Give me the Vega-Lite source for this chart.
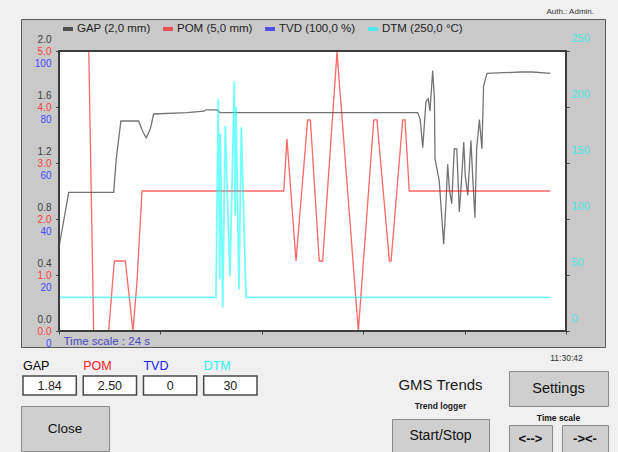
{
  "$schema": "https://vega.github.io/schema/vega-lite/v6.json",
  "background": "#f0f0f0",
  "padding": {"left": 20, "top": 7, "right": 14, "bottom": 0},
  "config": {
    "font": "Liberation Sans",
    "view": {"stroke": null},
    "axis": {"labelFont": "Liberation Sans", "titleFont": "Liberation Sans"},
    "legend": {"labelFont": "Liberation Sans"},
    "title": {"font": "Liberation Sans"},
    "text": {"font": "Liberation Sans"}
  },
  "datasets": {
    "trend": [
      {"series": "GAP", "t": 0.00, "v": 0.60}, {"series": "GAP", "t": 0.46, "v": 0.99}, {"series": "GAP", "t": 2.59, "v": 0.99},
      {"series": "GAP", "t": 2.71, "v": 1.23}, {"series": "GAP", "t": 2.93, "v": 1.50}, {"series": "GAP", "t": 3.77, "v": 1.50},
      {"series": "GAP", "t": 3.98, "v": 1.42}, {"series": "GAP", "t": 4.13, "v": 1.38}, {"series": "GAP", "t": 4.32, "v": 1.44},
      {"series": "GAP", "t": 4.48, "v": 1.55}, {"series": "GAP", "t": 6.06, "v": 1.56}, {"series": "GAP", "t": 6.86, "v": 1.57},
      {"series": "GAP", "t": 6.96, "v": 1.58}, {"series": "GAP", "t": 7.48, "v": 1.58}, {"series": "GAP", "t": 7.62, "v": 1.56},
      {"series": "GAP", "t": 16.98, "v": 1.56}, {"series": "GAP", "t": 17.10, "v": 1.51}, {"series": "GAP", "t": 17.22, "v": 1.31},
      {"series": "GAP", "t": 17.37, "v": 1.64}, {"series": "GAP", "t": 17.48, "v": 1.66}, {"series": "GAP", "t": 17.56, "v": 1.57},
      {"series": "GAP", "t": 17.69, "v": 1.86}, {"series": "GAP", "t": 17.77, "v": 1.66}, {"series": "GAP", "t": 17.80, "v": 1.23},
      {"series": "GAP", "t": 18.00, "v": 1.07}, {"series": "GAP", "t": 18.21, "v": 0.62}, {"series": "GAP", "t": 18.32, "v": 0.92},
      {"series": "GAP", "t": 18.40, "v": 1.19}, {"series": "GAP", "t": 18.48, "v": 1.01}, {"series": "GAP", "t": 18.59, "v": 0.91},
      {"series": "GAP", "t": 18.71, "v": 1.30}, {"series": "GAP", "t": 18.83, "v": 1.30}, {"series": "GAP", "t": 18.95, "v": 0.85},
      {"series": "GAP", "t": 19.06, "v": 1.09}, {"series": "GAP", "t": 19.16, "v": 1.35}, {"series": "GAP", "t": 19.23, "v": 1.11},
      {"series": "GAP", "t": 19.35, "v": 0.97}, {"series": "GAP", "t": 19.50, "v": 1.36}, {"series": "GAP", "t": 19.58, "v": 1.11},
      {"series": "GAP", "t": 19.69, "v": 0.81}, {"series": "GAP", "t": 19.77, "v": 1.30}, {"series": "GAP", "t": 19.90, "v": 1.51},
      {"series": "GAP", "t": 20.02, "v": 1.30}, {"series": "GAP", "t": 20.10, "v": 1.75}, {"series": "GAP", "t": 20.26, "v": 1.84},
      {"series": "GAP", "t": 21.87, "v": 1.85}, {"series": "GAP", "t": 22.42, "v": 1.85}, {"series": "GAP", "t": 23.26, "v": 1.84},
      {"series": "POM", "t": 0.00, "v": 5.0}, {"series": "POM", "t": 1.41, "v": 5.0}, {"series": "POM", "t": 1.64, "v": 0},
      {"series": "POM", "t": 2.35, "v": 0}, {"series": "POM", "t": 2.62, "v": 1.25}, {"series": "POM", "t": 3.14, "v": 1.25},
      {"series": "POM", "t": 3.50, "v": 0}, {"series": "POM", "t": 3.69, "v": 0.87}, {"series": "POM", "t": 3.93, "v": 2.5},
      {"series": "POM", "t": 10.64, "v": 2.5}, {"series": "POM", "t": 10.79, "v": 3.43}, {"series": "POM", "t": 11.22, "v": 1.25},
      {"series": "POM", "t": 11.77, "v": 3.77}, {"series": "POM", "t": 11.90, "v": 3.77}, {"series": "POM", "t": 12.32, "v": 1.25},
      {"series": "POM", "t": 12.48, "v": 1.25}, {"series": "POM", "t": 13.16, "v": 4.98}, {"series": "POM", "t": 14.17, "v": 0},
      {"series": "POM", "t": 14.90, "v": 3.77}, {"series": "POM", "t": 15.05, "v": 3.77}, {"series": "POM", "t": 15.64, "v": 1.25},
      {"series": "POM", "t": 15.72, "v": 1.25}, {"series": "POM", "t": 16.27, "v": 3.77}, {"series": "POM", "t": 16.38, "v": 3.77},
      {"series": "POM", "t": 16.58, "v": 2.5}, {"series": "POM", "t": 23.26, "v": 2.5},
      {"series": "TVD", "t": 0.00, "v": 0}, {"series": "TVD", "t": 23.26, "v": 0},
      {"series": "DTM", "t": 0.00, "v": 30}, {"series": "DTM", "t": 7.43, "v": 30}, {"series": "DTM", "t": 7.54, "v": 207},
      {"series": "DTM", "t": 7.61, "v": 46}, {"series": "DTM", "t": 7.64, "v": 176}, {"series": "DTM", "t": 7.75, "v": 21},
      {"series": "DTM", "t": 7.87, "v": 183}, {"series": "DTM", "t": 8.09, "v": 49}, {"series": "DTM", "t": 8.30, "v": 223},
      {"series": "DTM", "t": 8.34, "v": 103}, {"series": "DTM", "t": 8.38, "v": 200}, {"series": "DTM", "t": 8.52, "v": 37},
      {"series": "DTM", "t": 8.63, "v": 182}, {"series": "DTM", "t": 8.85, "v": 30}, {"series": "DTM", "t": 23.26, "v": 30}
    ],
    "readout": [
      {"series": "GAP", "value": "1.84"},
      {"series": "POM", "value": "2.50"},
      {"series": "TVD", "value": "0"},
      {"series": "DTM", "value": "30"}
    ]
  },
  "resolve": {"scale": {"x": "independent", "y": "independent", "color": "independent"}, "legend": {"color": "independent"}},
  "bounds": "flush",
  "spacing": 4,
  "vconcat": [
    {
      "width": 584,
      "height": 328,
      "title": {"text": "Auth.: Admin.", "anchor": "end", "frame": "group", "fontSize": 8, "fontWeight": "normal", "color": "#333333", "offset": 3, "dx": -11},
      "view": {"fill": "#c9c9c9", "stroke": "#5a5a5a", "strokeWidth": 1},
      "resolve": {"scale": {"y": "independent"}, "axis": {"y": "independent"}},
      "layer": [
        {
          "data": {"values": [{}]},
          "mark": {"type": "rect", "fill": "#ffffff"},
          "encoding": {
            "x": {"datum": 0, "type": "quantitative", "scale": {"domain": [0, 24], "range": [38, 545], "nice": false, "zero": false}},
            "x2": {"datum": 24},
            "y": {"datum": 0, "type": "quantitative", "scale": {"domain": [0, 2], "range": [312, 32], "nice": false, "zero": false}, "axis": null},
            "y2": {"datum": 2}
          }
        },
        {
          "data": {"name": "trend"},
          "transform": [{"filter": "datum.series === 'GAP'"}],
          "mark": {"type": "line", "strokeWidth": 1.3, "opacity": 0.55},
          "encoding": {
            "x": {
              "field": "t", "type": "quantitative",
              "scale": {"domain": [0, 24], "range": [38, 545], "nice": false, "zero": false},
              "axis": {
                "orient": "bottom", "offset": -16, "values": [0, 4.8, 9.6, 14.4, 19.2, 24],
                "domain": false, "grid": false, "ticks": true, "tickSize": 3, "tickColor": "#404040",
                "labelExpr": "datum.value == 24 ? '11:30:42' : ''", "labelPadding": 19, "labelFontSize": 8.5,
                "labelColor": "#333333", "labelFlush": false, "labelOverlap": false, "labelBaseline": "top",
                "title": "Time scale : 24 s", "titleX": 42, "titleY": 10, "titleAlign": "left", "titleBaseline": "middle",
                "titleColor": "#4848c0", "titleFontSize": 11.5, "titleFontWeight": "normal", "titleAnchor": null
              }
            },
            "y": {
              "field": "v", "type": "quantitative",
              "scale": {"domain": [0, 2], "range": [312, 32], "nice": false, "zero": false},
              "axis": {"orient": "left", "offset": -38, "values": [0, 0.4, 0.8, 1.2, 1.6, 2], "format": ".1f",
                "labelColor": "#404040", "labelOffset": -12, "labelPadding": 5, "labelFontSize": 10, "tickSize": 3,
                "tickColor": "#404040", "domain": false, "grid": false, "title": null, "labelOverlap": false, "labelBound": false, "labelFlush": false}
            },
            "color": {
              "field": "series", "type": "nominal",
              "scale": {"domain": ["GAP", "POM", "TVD", "DTM"], "range": ["#000000", "#ff0000", "#0000ff", "#00ffff"]},
              "legend": {
                "orient": "none", "legendX": 40, "legendY": 3, "direction": "horizontal", "title": null, "gridAlign": "none",
                "symbolType": "stroke", "symbolStrokeWidth": 4, "symbolSize": 100, "symbolOpacity": 1,
                "labelFontSize": 11.5, "labelColor": "#1e1e1e", "labelOffset": 2, "columnPadding": 4, "padding": 0,
                "labelExpr": "datum.label == 'GAP' ? 'GAP (2,0 mm)' : datum.label == 'POM' ? 'POM (5,0 mm)' : datum.label == 'TVD' ? 'TVD (100,0 %)' : 'DTM (250,0 °C)'"
              }
            }
          }
        },
        {
          "data": {"name": "trend"},
          "transform": [{"filter": "datum.series === 'POM'"}],
          "mark": {"type": "line", "strokeWidth": 1.3, "opacity": 0.6},
          "encoding": {
            "x": {"field": "t", "type": "quantitative", "scale": {"domain": [0, 24], "range": [38, 545], "nice": false, "zero": false}},
            "y": {
              "field": "v", "type": "quantitative",
              "scale": {"domain": [0, 5], "range": [312, 32], "nice": false, "zero": false},
              "axis": {"orient": "left", "offset": -38, "values": [0, 1, 2, 3, 4, 5], "format": ".1f",
                "labelColor": "#ff4040", "labelOffset": 0, "labelPadding": 5, "labelFontSize": 10, "tickSize": 3,
                "tickColor": "#404040", "domain": false, "grid": false, "title": null, "labelOverlap": false, "labelBound": false, "labelFlush": false}
            },
            "color": {"field": "series", "type": "nominal"}
          }
        },
        {
          "data": {"name": "trend"},
          "transform": [{"filter": "datum.series === 'TVD'"}],
          "mark": {"type": "line", "strokeWidth": 1.2, "opacity": 0.6},
          "encoding": {
            "x": {"field": "t", "type": "quantitative", "scale": {"domain": [0, 24], "range": [38, 545], "nice": false, "zero": false}},
            "y": {
              "field": "v", "type": "quantitative",
              "scale": {"domain": [0, 100], "range": [312, 32], "nice": false, "zero": false},
              "axis": {"orient": "left", "offset": -38, "values": [0, 20, 40, 60, 80, 100], "format": "d",
                "labelColor": "#4848ff", "labelOffset": 12, "labelPadding": 5, "labelFontSize": 10, "tickSize": 3,
                "tickColor": "#404040", "domain": false, "grid": false, "title": null, "labelOverlap": false, "labelBound": false, "labelFlush": false}
            },
            "color": {"field": "series", "type": "nominal"}
          }
        },
        {
          "data": {"name": "trend"},
          "transform": [{"filter": "datum.series === 'DTM'"}],
          "mark": {"type": "line", "strokeWidth": 1.8, "opacity": 0.55},
          "encoding": {
            "x": {"field": "t", "type": "quantitative", "scale": {"domain": [0, 24], "range": [38, 545], "nice": false, "zero": false}},
            "y": {
              "field": "v", "type": "quantitative",
              "scale": {"domain": [0, 250], "range": [312, 32], "nice": false, "zero": false},
              "axis": {"orient": "right", "offset": -39, "values": [0, 50, 100, 150, 200, 250], "format": "d",
                "labelColor": "#4de6e6", "labelOffset": -13, "labelPadding": 2, "labelFontSize": 11, "tickSize": 3,
                "tickColor": "#404040", "domain": false, "grid": false, "title": null, "labelOverlap": false, "labelBound": false, "labelFlush": false}
            },
            "color": {"field": "series", "type": "nominal"}
          }
        },
        {
          "data": {"values": [{}]},
          "mark": {"type": "rect", "filled": false, "stroke": "#3c3c3c", "strokeWidth": 2},
          "encoding": {
            "x": {"datum": 0, "type": "quantitative", "scale": {"domain": [0, 24], "range": [38, 545], "nice": false, "zero": false}},
            "x2": {"datum": 24},
            "y": {"datum": 0, "type": "quantitative", "scale": {"domain": [0, 2], "range": [312, 32], "nice": false, "zero": false}, "axis": null},
            "y2": {"datum": 2}
          }
        }
      ]
    },
    {
      "spacing": 133,
      "hconcat": [
        {
          "bounds": "flush",
          "spacing": 11,
          "vconcat": [
            {
              "width": 237,
              "height": 14,
              "data": {"name": "readout"},
              "mark": {"type": "text", "align": "left", "baseline": "middle", "fontSize": 12.5, "dy": 8},
              "encoding": {
                "x": {"field": "series", "type": "nominal", "bandPosition": 0, "axis": null,
                  "scale": {"type": "band", "domain": ["GAP", "POM", "TVD", "DTM"], "range": [2, 236], "paddingInner": 0.115, "paddingOuter": 0}},
                "text": {"field": "series"},
                "color": {"field": "series", "type": "nominal", "legend": null,
                  "scale": {"domain": ["GAP", "POM", "TVD", "DTM"], "range": ["#000000", "#ff2020", "#2020ff", "#30f0f0"]}}
              }
            },
            {
              "width": 237,
              "height": 19,
              "data": {"name": "readout"},
              "layer": [
                {
                  "mark": {"type": "rect", "fill": "#ffffff", "stroke": "#4a4a4a", "strokeWidth": 1.5},
                  "encoding": {
                    "x": {"field": "series", "type": "nominal", "axis": null,
                      "scale": {"type": "band", "domain": ["GAP", "POM", "TVD", "DTM"], "range": [2, 236], "paddingInner": 0.115, "paddingOuter": 0}}
                  }
                },
                {
                  "mark": {"type": "text", "fontSize": 12.5, "color": "#222222"},
                  "encoding": {
                    "x": {"field": "series", "type": "nominal", "axis": null,
                      "scale": {"type": "band", "domain": ["GAP", "POM", "TVD", "DTM"], "range": [2, 236], "paddingInner": 0.115, "paddingOuter": 0}},
                    "text": {"field": "value"}
                  }
                }
              ]
            },
            {
              "width": 88,
              "height": 45,
              "view": {"fill": "#cfcfcf", "stroke": "#8a8a8a", "strokeWidth": 1},
              "data": {"values": [{"label": "Close"}]},
              "mark": {"type": "text", "fontSize": 13.5, "color": "#111111"},
              "encoding": {"text": {"field": "label"}}
            }
          ]
        },
        {
          "spacing": 18,
          "hconcat": [
            {
              "bounds": "flush",
              "spacing": 0,
              "vconcat": [
                {
                  "width": 97,
                  "height": 68,
                  "data": {"values": [{"title": "GMS Trends", "sub": "Trend logger"}]},
                  "layer": [
                    {"mark": {"type": "text", "fontSize": 15, "color": "#1a1a1a"}, "encoding": {"text": {"field": "title"}}},
                    {"mark": {"type": "text", "fontSize": 8.5, "fontWeight": "bold", "color": "#1a1a1a", "dy": 21}, "encoding": {"text": {"field": "sub"}}}
                  ]
                },
                {
                  "width": 97,
                  "height": 34,
                  "view": {"fill": "#cfcfcf", "stroke": "#8a8a8a", "strokeWidth": 1},
                  "data": {"values": [{"label": "Start/Stop"}]},
                  "mark": {"type": "text", "fontSize": 14, "color": "#111111"},
                  "encoding": {"text": {"field": "label"}}
                }
              ]
            },
            {
              "bounds": "flush",
              "spacing": 5,
              "vconcat": [
                {
                  "width": 99,
                  "height": 15,
                  "data": {"values": []},
                  "mark": "text",
                  "encoding": {}
                },
                {
                  "width": 99,
                  "height": 35,
                  "view": {"fill": "#cfcfcf", "stroke": "#8a8a8a", "strokeWidth": 1},
                  "data": {"values": [{"label": "Settings"}]},
                  "mark": {"type": "text", "fontSize": 14.5, "color": "#111111"},
                  "encoding": {"text": {"field": "label"}}
                },
                {
                  "width": 99,
                  "height": 9,
                  "data": {"values": [{"label": "Time scale"}]},
                  "mark": {"type": "text", "fontSize": 8.5, "fontWeight": "bold", "color": "#111111", "dy": 2},
                  "encoding": {"text": {"field": "label"}}
                },
                {
                  "bounds": "flush",
                  "spacing": 10,
                  "hconcat": [
                    {
                      "width": 43,
                      "height": 28,
                      "view": {"fill": "#cfcfcf", "stroke": "#8a8a8a", "strokeWidth": 1},
                      "data": {"values": [{"label": "<-->"}]},
                      "mark": {"type": "text", "fontSize": 13, "fontWeight": "bold", "color": "#111111"},
                      "encoding": {"text": {"field": "label"}}
                    },
                    {
                      "width": 46,
                      "height": 28,
                      "view": {"fill": "#cfcfcf", "stroke": "#8a8a8a", "strokeWidth": 1},
                      "data": {"values": [{"label": "-><-"}]},
                      "mark": {"type": "text", "fontSize": 13, "fontWeight": "bold", "color": "#111111"},
                      "encoding": {"text": {"field": "label"}}
                    }
                  ]
                }
              ]
            }
          ]
        }
      ]
    }
  ]
}
